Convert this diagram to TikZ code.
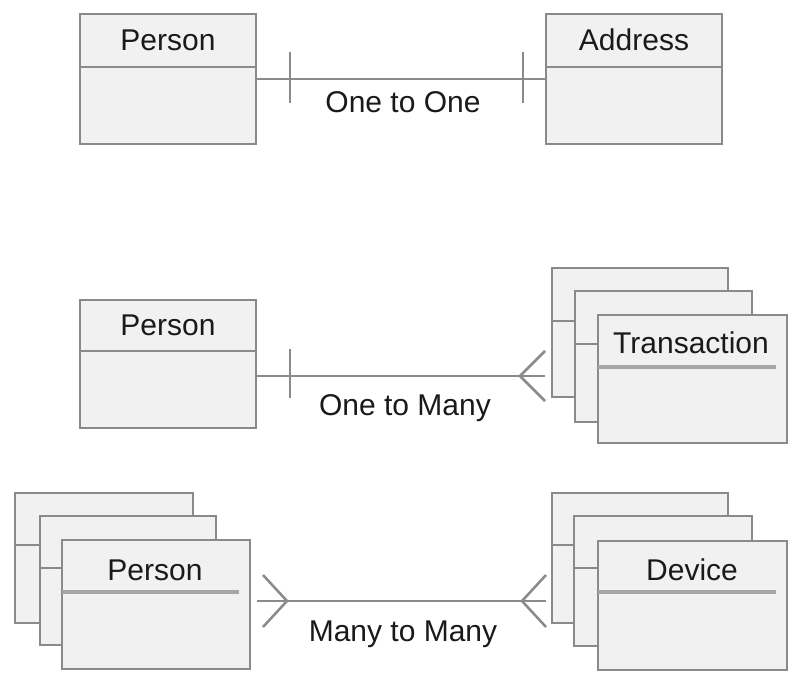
\documentclass[tikz,border=0pt]{standalone}
\usepackage{fontspec}
\setmainfont{Liberation Sans}
\definecolor{boxfill}{HTML}{F1F1F1}
\definecolor{boxline}{HTML}{8A8A8A}
\definecolor{divgray}{HTML}{A6A6A6}
\definecolor{txt}{HTML}{1A1A1A}
\newcommand\erbox[6]{%
  \node[ebox, anchor=north west, minimum width={#4-#2}, minimum height={#5-#3}] (#1) at (#2,#3) {};
  \draw[divline] (#1.west |- 0,#6) -- (#1.east |- 0,#6);
}
\newcommand\erfront[6]{%
  \node[ebox, anchor=north west, minimum width={#4-#2}, minimum height={#5-#3}] (#1) at (#2,#3) {};
  \draw[frontdiv] (#1.west |- 0,#6) -- ([xshift=-11pt]#1.east |- 0,#6);
}
\begin{document}
\begin{tikzpicture}[x=1pt,y=-1pt,
  ebox/.style={draw=boxline, fill=boxfill, line width=2.5pt, inner sep=0pt, outer sep=0pt},
  divline/.style={draw=boxline, line width=2.5pt},
  frontdiv/.style={draw=divgray, line width=4pt},
  conn/.style={draw=boxline, line width=2.5pt},
  lbl/.style={font=\fontsize{30}{34}\selectfont, text=txt, anchor=base, inner sep=0pt}]
\useasboundingbox (0,0) rectangle (802,684);
\fill[white] (0,0) rectangle (802,684);

% ---------- One to One ----------
\erbox{p1}{80}{14}{256}{144}{67}
\node[lbl] (p1t) at (168,51) {Person};
\erbox{a1}{546}{14}{722}{144}{67}
\node[lbl] (a1t) at (634,51) {Address};
\draw[conn] (p1.east) -- (a1.west);
\coordinate (tk1) at (290,79);
\coordinate (tk2) at (523,79);
\draw[conn] (tk1 |- 0,52) -- (tk1 |- 0,103);
\draw[conn] (tk2 |- 0,52) -- (tk2 |- 0,103);
\node[lbl] (l1) at (403,113) {One to One};

% ---------- One to Many ----------
\erbox{p2}{80}{300}{256}{428}{351}
\node[lbl] (p2t) at (168,335) {Person};
\erbox{tA}{552}{268}{728}{397}{321}
\erbox{tB}{575}{291}{752}{422}{344}
\erfront{tC}{598}{315}{787}{443}{367}
\node[lbl] (tCt) at (691,353) {Transaction};
\coordinate (cf1) at (520,376);
\coordinate (e1) at (545,376);
\draw[conn] (p2.east |- cf1) -- (e1);
\draw[conn] (e1 |- 0,351) -- (cf1) -- (e1 |- 0,401);
\coordinate (tk3) at (290,376);
\draw[conn] (tk3 |- 0,349) -- (tk3 |- 0,398);
\node[lbl] (l2) at (405,415) {One to Many};

% ---------- Many to Many ----------
\erbox{pA}{15}{493}{193}{623}{545}
\erbox{pB}{40}{516}{216}{645}{568}
\erfront{pC}{62}{540}{250}{669}{592}
\node[lbl] (pCt) at (155,580) {Person};
\erbox{dA}{552}{493}{728}{623}{545}
\erbox{dB}{574}{516}{752}{646}{568}
\erfront{dC}{598}{541}{787}{670}{592}
\node[lbl] (dCt) at (692,580) {Device};
\coordinate (s1) at (257,601);
\coordinate (cf2) at (287,601);
\coordinate (cf3) at (522,601);
\coordinate (s2) at (546,601);
\draw[conn] (s1) -- (s2);
\draw[conn] ([xshift=-24pt]cf2 |- 0,575) -- (cf2) -- ([xshift=-24pt]cf2 |- 0,627);
\draw[conn] (s2 |- 0,575) -- (cf3) -- (s2 |- 0,627);
\node[lbl] (l3) at (403,641) {Many to Many};
\end{tikzpicture}
\end{document}
